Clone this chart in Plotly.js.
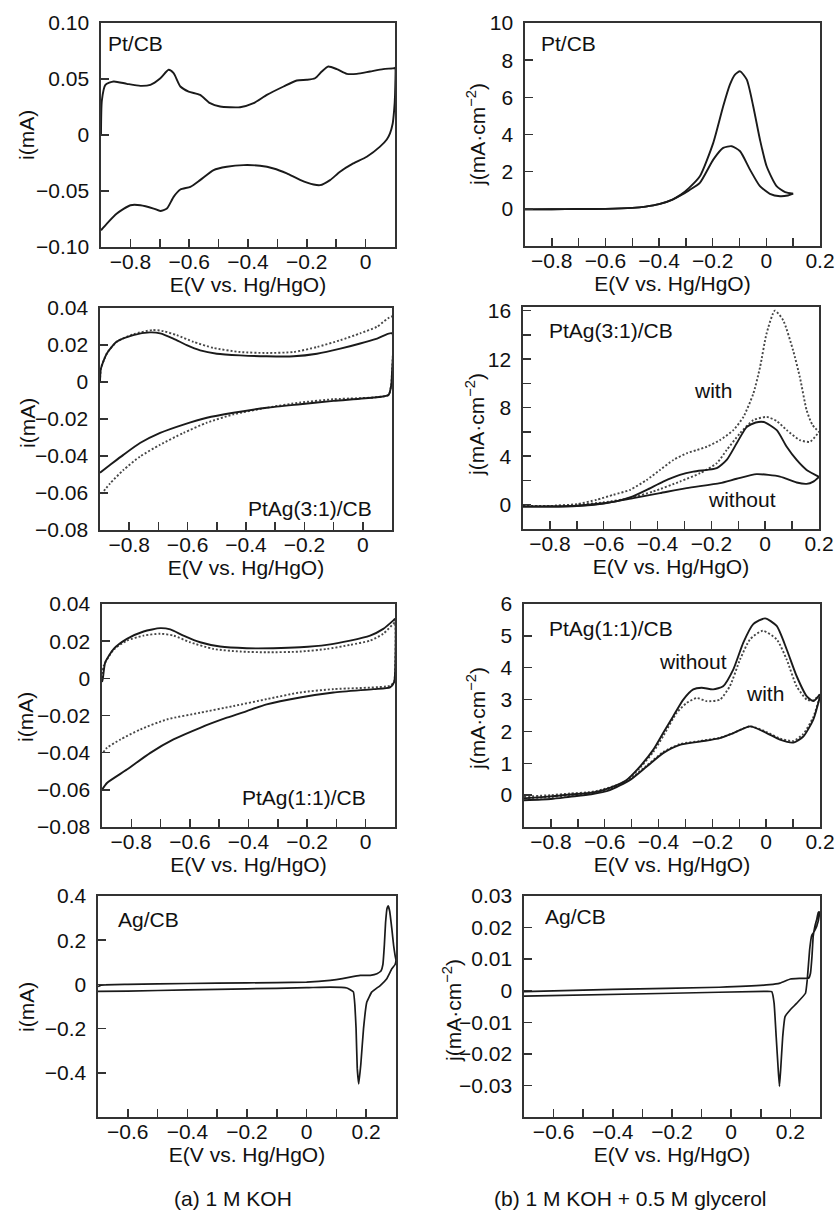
<!DOCTYPE html>
<html>
<head>
<meta charset="utf-8">
<script src="https://cdn.plot.ly/plotly-3.0.1.min.js"></script>
<style>html,body{margin:0;padding:0;background:#fff;}#chart{width:837px;height:1210px;}</style>
</head>
<body>
<div id="chart"></div>
<script>
// ---------------- DATA ----------------
// (a) Pt/CB in 1 M KOH (one closed CV loop)
const aPtE = [-0.900,-0.897,-0.885,-0.857,-0.812,-0.766,-0.732,-0.698,-0.670,-0.653,-0.630,-0.602,-0.563,-0.529,-0.495,-0.427,-0.381,-0.336,-0.279,-0.234,-0.200,-0.172,-0.149,-0.127,-0.098,-0.064,-0.030,0.015,0.060,0.098,0.100,0.100,0.097,0.092,0.083,0.072,0.049,0.004,-0.042,-0.087,-0.121,-0.155,-0.177,-0.223,-0.268,-0.313,-0.359,-0.415,-0.472,-0.517,-0.563,-0.596,-0.630,-0.653,-0.676,-0.698,-0.721,-0.766,-0.800,-0.846,-0.880,-0.900];
const aPtI = [0.000,0.031,0.0448,0.0478,0.0457,0.0439,0.0448,0.0507,0.0582,0.0552,0.0433,0.0388,0.0358,0.0284,0.0254,0.0248,0.0284,0.0358,0.0433,0.0487,0.0493,0.0507,0.0567,0.0612,0.0588,0.0546,0.0546,0.0567,0.0588,0.0597,0.0600,0.0350,0.0220,0.0100,0.0015,-0.0040,-0.0104,-0.0194,-0.0254,-0.0328,-0.0403,-0.0448,-0.0442,-0.0400,-0.0343,-0.0299,-0.0275,-0.0269,-0.0284,-0.0313,-0.0403,-0.0463,-0.0487,-0.0552,-0.0657,-0.0678,-0.0657,-0.0627,-0.0627,-0.0701,-0.0791,-0.0851];

// (b) Pt/CB in 1 M KOH + 0.5 M glycerol
const bPtE1 = [-0.9,-0.8,-0.7,-0.6,-0.5,-0.45,-0.4,-0.35,-0.32,-0.29,-0.248,-0.198,-0.161,-0.136,-0.117,-0.098,-0.073,-0.049,-0.024,0.001,0.038,0.070,0.100];
const bPtJ1 = [-0.03,-0.02,-0.01,0.0,0.05,0.12,0.25,0.50,0.75,1.10,1.75,3.55,5.52,6.68,7.22,7.40,6.95,5.52,3.73,2.29,1.22,0.90,0.82];
const bPtE2 = [-0.9,-0.8,-0.7,-0.6,-0.5,-0.45,-0.4,-0.35,-0.32,-0.29,-0.248,-0.198,-0.161,-0.129,-0.098,-0.061,-0.024,0.013,0.051,0.080,0.100];
const bPtJ2 = [-0.03,-0.02,-0.01,0.0,0.05,0.12,0.25,0.50,0.72,0.98,1.40,2.65,3.28,3.37,3.10,2.11,1.22,0.81,0.68,0.72,0.82];

// (a) PtAg(3:1)/CB: solid and dotted CV loops
const a31SolE = [-0.9,-0.897,-0.877,-0.843,-0.786,-0.729,-0.694,-0.649,-0.603,-0.557,-0.5,-0.42,-0.329,-0.237,-0.157,-0.077,-0.009,0.049,0.1,0.1,0.097,0.088,0.037,-0.1,-0.214,-0.329,-0.443,-0.534,-0.614,-0.694,-0.763,-0.82,-0.866,-0.9];
const a31SolI = [0.0,0.0071,0.0153,0.0217,0.0253,0.0268,0.0263,0.0235,0.0199,0.0171,0.0153,0.0144,0.0139,0.0139,0.0153,0.018,0.0208,0.0235,0.0263,0.005,-0.002,-0.007,-0.0084,-0.0102,-0.012,-0.0139,-0.0166,-0.0193,-0.023,-0.0275,-0.033,-0.0394,-0.0449,-0.049];
const a31DotE = [-0.9,-0.897,-0.877,-0.843,-0.786,-0.72,-0.683,-0.637,-0.58,-0.511,-0.42,-0.329,-0.237,-0.157,-0.077,-0.009,0.049,0.1,0.1,0.097,0.088,-0.1,-0.214,-0.329,-0.443,-0.534,-0.614,-0.694,-0.763,-0.82,-0.866,-0.894];
const a31DotI = [0.0,0.0071,0.0153,0.0217,0.0258,0.0281,0.0275,0.0253,0.0217,0.0184,0.0162,0.0157,0.0162,0.0189,0.0226,0.0263,0.0299,0.0354,0.005,-0.002,-0.007,-0.0093,-0.0111,-0.0139,-0.0175,-0.022,-0.0275,-0.0339,-0.0403,-0.0476,-0.0549,-0.0603];

// (b) PtAg(3:1)/CB: without (solid) and with (dotted)
const b31WoE1 = [-0.9,-0.8,-0.7,-0.6,-0.55,-0.5,-0.44,-0.379,-0.317,-0.267,-0.217,-0.18,-0.143,-0.106,-0.069,-0.035,-0.005,0.043,0.08,0.117,0.154,0.2];
const b31WoJ1 = [-0.15,-0.15,-0.08,0.12,0.3,0.62,1.23,1.91,2.46,2.73,2.87,3.01,3.69,5.06,6.4,6.78,6.82,6.15,4.78,3.69,2.87,2.3];
const b31WoE2 = [-0.9,-0.8,-0.7,-0.6,-0.49,-0.391,-0.292,-0.168,-0.106,-0.032,0.055,0.117,0.154,0.179,0.2];
const b31WoJ2 = [-0.15,-0.15,-0.1,0.1,0.55,0.96,1.37,1.78,2.14,2.52,2.32,1.83,1.72,1.91,2.3];
const b31WiE1 = [-0.9,-0.8,-0.7,-0.626,-0.564,-0.502,-0.44,-0.391,-0.341,-0.292,-0.254,-0.217,-0.168,-0.118,-0.081,-0.044,-0.019,0.005,0.036,0.067,0.104,0.129,0.154,0.175,0.2];
const b31WiJ1 = [-0.1,-0.1,0.05,0.41,0.82,1.23,2.05,2.87,3.69,4.24,4.51,4.78,5.33,6.15,7.24,9.16,11.35,14.1,16.0,15.2,12.7,10.5,7.8,6.6,6.0];
const b31WiE2 = [-0.9,-0.8,-0.7,-0.6,-0.502,-0.416,-0.317,-0.242,-0.18,-0.143,-0.094,-0.044,0.005,0.043,0.08,0.129,0.166,0.2];
const b31WiJ2 = [-0.1,-0.1,0.0,0.2,0.55,1.09,1.91,2.6,3.42,4.51,5.88,6.97,7.24,6.9,6.15,5.33,5.19,6.0];

// (a) PtAg(1:1)/CB: solid and dotted CV loops
const a11SolE = [-0.9,-0.897,-0.889,-0.86,-0.815,-0.758,-0.701,-0.667,-0.622,-0.565,-0.497,-0.406,-0.315,-0.224,-0.133,-0.053,0.015,0.06,0.094,0.1,0.1,0.097,0.083,0.026,-0.11,-0.224,-0.338,-0.406,-0.474,-0.565,-0.656,-0.735,-0.815,-0.883,-0.9];
const a11SolI = [-0.002,0.0,0.0086,0.0158,0.0212,0.0252,0.027,0.0263,0.023,0.0194,0.0171,0.0162,0.0162,0.0167,0.018,0.0203,0.023,0.0266,0.0311,0.032,0.002,-0.002,-0.0049,-0.0058,-0.0076,-0.0103,-0.014,-0.0176,-0.0212,-0.0266,-0.0329,-0.0401,-0.0491,-0.0563,-0.06];
const a11DotE = [-0.9,-0.894,-0.86,-0.815,-0.758,-0.701,-0.656,-0.599,-0.519,-0.428,-0.338,-0.224,-0.133,-0.053,0.015,0.06,0.094,0.1,0.1,0.097,0.083,-0.11,-0.224,-0.338,-0.451,-0.565,-0.678,-0.769,-0.837,-0.883,-0.897];
const a11DotI = [0.0,0.0068,0.0155,0.0203,0.023,0.024,0.023,0.0194,0.0158,0.0144,0.014,0.0144,0.0158,0.018,0.0203,0.024,0.0293,0.030,0.002,-0.002,-0.004,-0.0058,-0.0076,-0.0112,-0.0149,-0.0185,-0.0221,-0.0275,-0.0329,-0.0374,-0.0401];

// (b) PtAg(1:1)/CB: without (solid) and with (dotted)
const b11WoE1 = [-0.9,-0.8,-0.73,-0.65,-0.606,-0.56,-0.52,-0.47,-0.42,-0.383,-0.346,-0.308,-0.271,-0.24,-0.197,-0.16,-0.122,-0.085,-0.048,-0.004,0.039,0.076,0.113,0.151,0.175,0.2];
const b11WoJ1 = [-0.1,-0.04,0.02,0.08,0.16,0.3,0.47,0.89,1.42,1.95,2.47,3.0,3.32,3.37,3.32,3.42,3.95,4.79,5.37,5.55,5.31,4.58,3.74,3.1,2.95,3.16];
const b11WoE2 = [-0.9,-0.8,-0.73,-0.65,-0.581,-0.507,-0.445,-0.383,-0.321,-0.246,-0.172,-0.122,-0.06,0.002,0.051,0.101,0.138,0.175,0.2];
const b11WoJ2 = [-0.16,-0.12,-0.05,0.03,0.16,0.47,0.89,1.32,1.58,1.68,1.79,1.95,2.16,1.95,1.74,1.65,1.84,2.37,3.1];
const b11WiE1 = [-0.9,-0.8,-0.73,-0.65,-0.606,-0.56,-0.52,-0.47,-0.42,-0.383,-0.333,-0.296,-0.258,-0.221,-0.172,-0.135,-0.097,-0.06,-0.013,0.039,0.076,0.113,0.151,0.175,0.2];
const b11WiJ1 = [-0.05,0.0,0.05,0.1,0.18,0.3,0.45,0.85,1.35,1.85,2.58,2.89,3.05,2.95,3.0,3.42,4.26,4.89,5.16,4.89,4.26,3.42,3.0,2.98,3.16];
const b11WiE2 = [-0.9,-0.8,-0.73,-0.65,-0.581,-0.507,-0.445,-0.383,-0.321,-0.246,-0.172,-0.122,-0.06,0.002,0.051,0.101,0.138,0.175,0.2];
const b11WiJ2 = [-0.1,-0.06,0.0,0.06,0.18,0.5,0.92,1.35,1.6,1.7,1.8,1.95,2.16,1.98,1.78,1.7,1.92,2.45,3.1];

// (a) Ag/CB in 1 M KOH (closed CV loop)
const aAgE = [-0.7,-0.69,-0.6,-0.4,-0.2,0.0,0.079,0.12,0.146,0.18,0.214,0.236,0.25,0.256,0.261,0.265,0.27,0.274,0.279,0.286,0.292,0.297,0.3,0.297,0.286,0.269,0.247,0.219,0.202,0.191,0.182,0.175,0.17,0.166,0.162,0.157,0.135,0.079,0.0,-0.2,-0.4,-0.6,-0.7];
const aAgI = [-0.01,-0.003,0.0,0.004,0.007,0.01,0.018,0.026,0.033,0.041,0.041,0.048,0.062,0.09,0.18,0.28,0.345,0.355,0.33,0.252,0.176,0.13,0.11,0.09,0.071,0.026,-0.005,-0.034,-0.08,-0.2,-0.36,-0.45,-0.38,-0.2,-0.095,-0.034,-0.016,-0.012,-0.015,-0.02,-0.025,-0.03,-0.032];

// (b) Ag/CB in 1 M KOH + 0.5 M glycerol (closed CV loop)
const bAgE = [-0.7,-0.4,-0.04,0.13,0.165,0.2,0.232,0.262,0.268,0.273,0.277,0.283,0.289,0.294,0.297,0.297,0.289,0.279,0.272,0.265,0.257,0.251,0.221,0.199,0.182,0.174,0.167,0.163,0.159,0.152,0.145,0.137,0.12,-0.2,-0.7];
const bAgJ = [-0.0003,0.0004,0.0011,0.0019,0.0024,0.0037,0.0039,0.004,0.0056,0.011,0.0172,0.0205,0.0226,0.0247,0.025,0.0236,0.0204,0.0185,0.0175,0.013,0.0035,-0.0008,-0.004,-0.0061,-0.0082,-0.0146,-0.0252,-0.0303,-0.0252,-0.0146,-0.004,-0.0003,-0.0002,-0.0008,-0.0017];

// Tick values and labels
const xTicksA = [-0.8,-0.6,-0.4,-0.2,0];
const xLabelsA = ["\u22120.8","\u22120.6","\u22120.4","\u22120.2","0"];
const xMinorA = [-0.7,-0.5,-0.3,-0.1];
const xTicksB = [-0.8,-0.6,-0.4,-0.2,0,0.2];
const xLabelsB = ["\u22120.8","\u22120.6","\u22120.4","\u22120.2","0","0.2"];
const xMinorB = [-0.7,-0.5,-0.3,-0.1,0.1];
const xTicksAg = [-0.6,-0.4,-0.2,0,0.2];
const xLabelsAg = ["\u22120.6","\u22120.4","\u22120.2","0","0.2"];
const xMinorAg = [-0.5,-0.3,-0.1,0.1];

const yTicks1 = [-0.1,-0.05,0,0.05,0.1];
const yLabels1 = ["\u22120.10","\u22120.05","0","0.05","0.10"];
const yTicks2 = [0,2,4,6,8,10];
const yLabels2 = ["0","2","4","6","8","10"];
const yTicks35 = [-0.08,-0.06,-0.04,-0.02,0,0.02,0.04];
const yLabels35 = ["\u22120.08","\u22120.06","\u22120.04","\u22120.02","0","0.02","0.04"];
const yTicks4 = [0,4,8,12,16];
const yLabels4 = ["0","4","8","12","16"];
const yMinor4 = [2,6,10,14];
const yTicks6 = [0,1,2,3,4,5,6];
const yLabels6 = ["0","1","2","3","4","5","6"];
const yTicks7 = [-0.4,-0.2,0,0.2,0.4];
const yLabels7 = ["\u22120.4","\u22120.2","0","0.2","0.4"];
const yTicks8 = [-0.03,-0.02,-0.01,0,0.01,0.02,0.03];
const yLabels8 = ["\u22120.03","\u22120.02","\u22120.01","0","0.01","0.02","0.03"];

const xTitle = "E(V vs. Hg/HgO)";
const yTitleA = "i(mA)";
const yTitleB = "j(mA\u00b7cm<sup>\u22122</sup>)";

// ---------------- LAYOUT / STYLE ----------------
const W = 837, H = 1210;
const FONT = "Liberation Sans, Arial, Helvetica, sans-serif";
const TXT = "#111";
const LINE = "#333";
const solid = {color:"#1a1a1a", width:1.9};
const dotted = {color:"#474747", width:1.9, dash:"2px,2px"};

// panel boxes in pixels: [left, right, top, bottom]; y-title centre [x, y]
const boxes = [
  [101,395,23,247],[525,820,23,246],
  [100,392,308,530],[523,819,307,529],
  [102,395,604,827],[524,820,604,827],
  [98,396,896,1117],[524,820,896,1117]
];
const yTitlePos = [[27,135],[476,135],[27,423],[475,424],[25,717],[476,719],[26,1007],[452,1010]];

const panels = [
  {xr:[-0.9,0.1], xt:xTicksA, xl:xLabelsA, xm:xMinorA, yr:[-0.1,0.1], yt:yTicks1, yl:yLabels1, ytitle:yTitleA},
  {xr:[-0.9,0.2], xt:xTicksB, xl:xLabelsB, xm:xMinorB, yr:[-2,10], yt:yTicks2, yl:yLabels2, ytitle:yTitleB},
  {xr:[-0.9,0.1], xt:xTicksA, xl:xLabelsA, xm:xMinorA, yr:[-0.08,0.04], yt:yTicks35, yl:yLabels35, ytitle:yTitleA},
  {xr:[-0.9,0.2], xt:xTicksB, xl:xLabelsB, xm:xMinorB, yr:[-2,16.3], yt:yTicks4, yl:yLabels4, ym:yMinor4, ytitle:yTitleB},
  {xr:[-0.9,0.1], xt:xTicksA, xl:xLabelsA, xm:xMinorA, yr:[-0.08,0.04], yt:yTicks35, yl:yLabels35, ytitle:yTitleA},
  {xr:[-0.9,0.2], xt:xTicksB, xl:xLabelsB, xm:xMinorB, yr:[-1,6], yt:yTicks6, yl:yLabels6, ytitle:yTitleB},
  {xr:[-0.7,0.3], xt:xTicksAg, xl:xLabelsAg, xm:xMinorAg, yr:[-0.6,0.4], yt:yTicks7, yl:yLabels7, ytitle:yTitleA},
  {xr:[-0.7,0.3], xt:xTicksAg, xl:xLabelsAg, xm:xMinorAg, yr:[-0.04,0.03], yt:yTicks8, yl:yLabels8, ytitle:yTitleB}
];

const layout = {
  width: W, height: H,
  margin: {l:0, r:0, t:0, b:0},
  paper_bgcolor: "#fff", plot_bgcolor: "#fff",
  showlegend: false,
  font: {family: FONT, size: 21, color: TXT},
  annotations: []
};

function axisBase(){
  return {
    showline:true, mirror:true, linecolor:LINE, linewidth:1.6,
    showgrid:false, zeroline:false, ticks:"inside", ticklen:8, tickwidth:1.5, tickcolor:LINE,
    tickmode:"array", automargin:false, fixedrange:true,
    tickfont:{family:FONT, size:21, color:TXT}
  };
}

panels.forEach((p, k) => {
  const [l, r, t, b] = boxes[k];
  const sfx = k === 0 ? "" : String(k + 1);
  const xa = axisBase(), ya = axisBase();
  Object.assign(xa, {
    domain:[l/W, r/W], range:p.xr, anchor:"y"+sfx,
    tickvals:p.xt, ticktext:p.xl,
    minor:{tickmode:"array", tickvals:p.xm, ticks:"inside", ticklen:8, tickwidth:1.5, tickcolor:LINE, showgrid:false},
    title:{text:xTitle, font:{family:FONT, size:21, color:TXT}, standoff:3},
    ticklabelstandoff:-5
  });
  Object.assign(ya, {
    domain:[1 - b/H, 1 - t/H], range:p.yr, anchor:"x"+sfx,
    tickvals:p.yt, ticktext:p.yl,
    ticklabelstandoff:6
  });
  if (p.ym) ya.minor = {tickmode:"array", tickvals:p.ym, ticks:"inside", ticklen:8, tickwidth:1.5, tickcolor:LINE, showgrid:false};
  layout["xaxis"+sfx] = xa;
  layout["yaxis"+sfx] = ya;
  // y-axis title as rotated text
  layout.annotations.push({text:p.ytitle, xref:"paper", yref:"paper",
    x:yTitlePos[k][0]/W, y:1 - yTitlePos[k][1]/H, xanchor:"center", yanchor:"middle",
    textangle:-90, showarrow:false, font:{family:FONT, size:21, color:TXT}});
});

function ann(text, px, py, anchor){
  layout.annotations.push({text:text, xref:"paper", yref:"paper", x:px/W, y:1-py/H,
    xanchor:anchor||"left", yanchor:"middle", showarrow:false,
    font:{family:FONT, size:21, color:TXT}});
}
ann("Pt/CB", 106, 43);
ann("Pt/CB", 539, 43);
ann("PtAg(3:1)/CB", 246, 508);
ann("PtAg(3:1)/CB", 547, 330);
ann("with", 692, 390);
ann("without", 706, 500);
ann("PtAg(1:1)/CB", 240, 797);
ann("PtAg(1:1)/CB", 547, 628);
ann("without", 657, 661);
ann("with", 744, 693);
ann("Ag/CB", 116, 919);
ann("Ag/CB", 543, 916);
ann("(a) 1 M KOH", 233, 1198, "center");
ann("(b) 1 M KOH + 0.5 M glycerol", 630, 1198, "center");

function tr(x, y, k, style){
  const sfx = k === 0 ? "" : String(k + 1);
  return {type:"scatter", mode:"lines", x:x, y:y, xaxis:"x"+sfx, yaxis:"y"+sfx,
    line:Object.assign({shape:"spline", smoothing:0.6}, style), hoverinfo:"skip", cliponaxis:true};
}

const data = [
  tr(aPtE, aPtI, 0, solid),
  tr(bPtE1, bPtJ1, 1, solid),
  tr(bPtE2, bPtJ2, 1, solid),
  tr(a31DotE, a31DotI, 2, dotted),
  tr(a31SolE, a31SolI, 2, solid),
  tr(b31WiE1, b31WiJ1, 3, dotted),
  tr(b31WiE2, b31WiJ2, 3, dotted),
  tr(b31WoE1, b31WoJ1, 3, solid),
  tr(b31WoE2, b31WoJ2, 3, solid),
  tr(a11DotE, a11DotI, 4, dotted),
  tr(a11SolE, a11SolI, 4, solid),
  tr(b11WiE1, b11WiJ1, 5, dotted),
  tr(b11WiE2, b11WiJ2, 5, dotted),
  tr(b11WoE1, b11WoJ1, 5, solid),
  tr(b11WoE2, b11WoJ2, 5, solid),
  tr(aAgE, aAgI, 6, Object.assign({}, solid, {width:1.7})),
  tr(bAgE, bAgJ, 7, Object.assign({}, solid, {width:1.7}))
];
data[15].line.smoothing = 0.3;
data[16].line.smoothing = 0.3;

Plotly.newPlot("chart", data, layout, {staticPlot:true, displayModeBar:false});
</script>
</body>
</html>
